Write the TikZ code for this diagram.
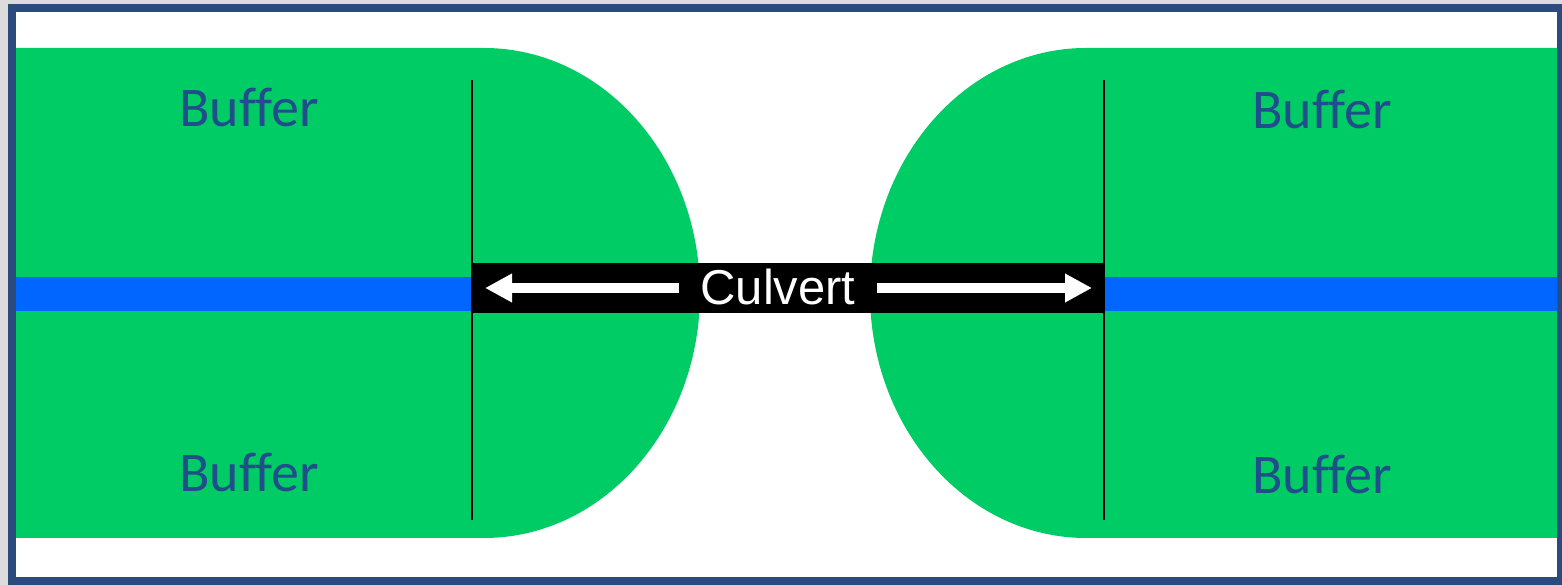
\documentclass[tikz,border=0pt]{standalone}
\usepackage{fontspec}
\usetikzlibrary{arrows.meta}
\newfontfamily\labelfont{Liberation Sans}
\newfontfamily\bufferfont[Ligatures=NoCommon]{Carlito}
\definecolor{grassgreen}{HTML}{00CC66}
\definecolor{streamblue}{HTML}{0066FF}
\definecolor{frameblue}{HTML}{2B4A7E}
\definecolor{outergray}{HTML}{DCDCDC}
\definecolor{buffertext}{HTML}{1F4E8A}
\tikzset{
  bufferlabel/.style={font=\bufferfont\fontsize{56}{64}\selectfont, text=buffertext, inner sep=0pt},
  culvertlabel/.style={font=\labelfont\fontsize{49}{58}\selectfont, text=white, inner xsep=21pt, inner ysep=0pt},
  whitearrow/.style={draw=white, line width=10pt, -{Triangle[width=27pt,length=27pt]}},
  edgeline/.style={draw=black, line width=1.5pt}
}
\begin{document}
\begin{tikzpicture}[x=1pt,y=1pt]
  \useasboundingbox (0,0) rectangle (1562,585);
  % surround and frame
  \fill[outergray] (0,0) rectangle (1562,585);
  \fill[frameblue] (8,0) rectangle (1562,581);
  \fill[white] (16,8) rectangle (1557,573);
  % buffer strips with rounded ends
  \fill[grassgreen] (16,47) -- (484,47)
    arc[start angle=-90, end angle=90, x radius=216, y radius=245]
    -- (16,537) -- cycle;
  \fill[grassgreen] (1557,47) -- (1086,47)
    arc[start angle=270, end angle=90, x radius=216, y radius=245]
    -- (1557,537) -- cycle;
  % stream channel
  \fill[streamblue] (16,274) rectangle (472,308);
  \fill[streamblue] (1104,274) rectangle (1557,308);
  % culvert
  \fill[black] (472,272) rectangle (1104,322);
  % road edges
  \coordinate (ltop) at (472,505);
  \coordinate (lbot) at (472,65);
  \coordinate (rtop) at (1104,505);
  \coordinate (rbot) at (1104,65);
  \draw[edgeline] (ltop) -- (lbot);
  \draw[edgeline] (rtop) -- (rbot);
  % culvert label and length arrows
  \node[culvertlabel] (culvert) at (778,298) {Culvert};
  \coordinate (ltip) at (485,297);
  \coordinate (rtip) at (1092,297);
  \draw[whitearrow] (culvert.west |- ltip) -- (ltip);
  \draw[whitearrow] (culvert.east |- rtip) -- (rtip);
  % buffer labels
  \node[bufferlabel] (bufTL) at (249,477) {Buffer};
  \node[bufferlabel] (bufBL) at (249,112) {Buffer};
  \node[bufferlabel] (bufTR) at (1322,475) {Buffer};
  \node[bufferlabel] (bufBR) at (1322,110) {Buffer};
\end{tikzpicture}
\end{document}
